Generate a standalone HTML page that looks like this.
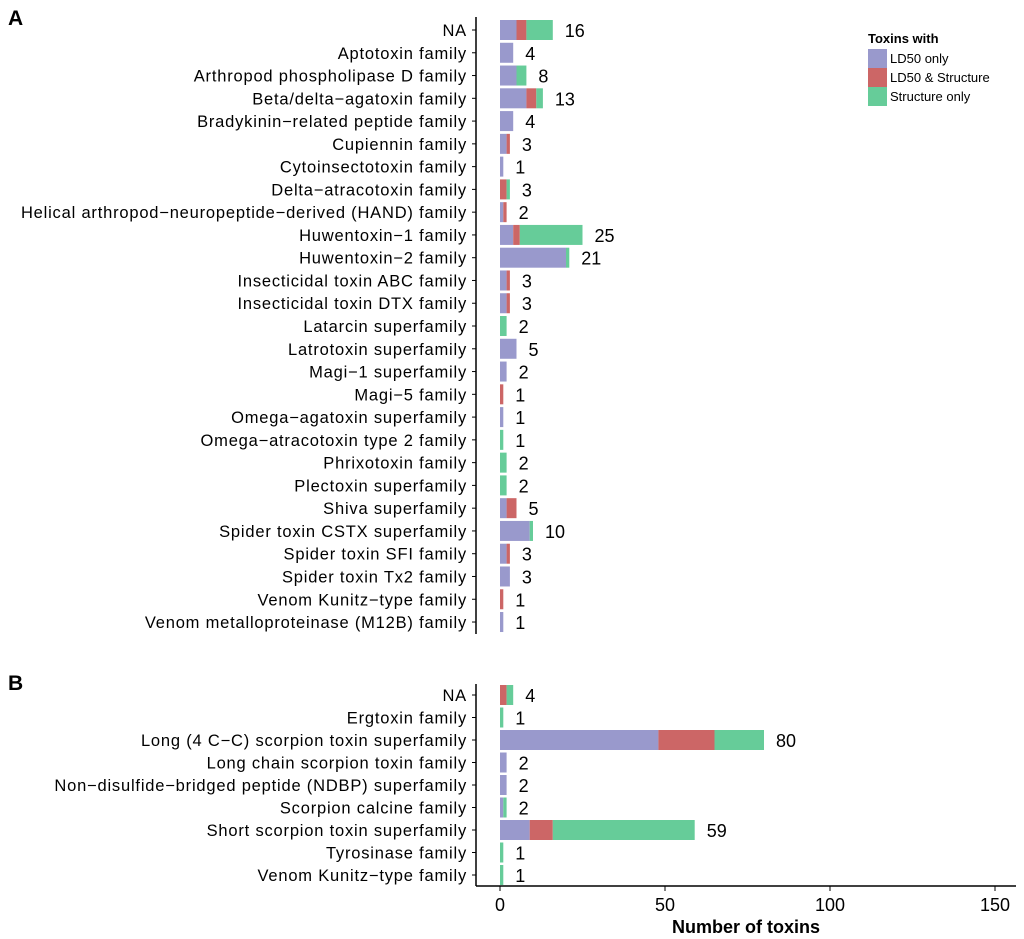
<!DOCTYPE html>
<html><head><meta charset="utf-8"><style>
body{margin:0;background:#fff}
svg{display:block;font-family:"Liberation Sans",sans-serif}
</style></head><body>
<svg id="chart" width="1024" height="939" viewBox="0 0 1024 939"></svg>
<script>
const catsA=["NA","Aptotoxin family","Arthropod phospholipase D family","Beta/delta\u2212agatoxin family","Bradykinin\u2212related peptide family","Cupiennin family","Cytoinsectotoxin family","Delta\u2212atracotoxin family","Helical arthropod\u2212neuropeptide\u2212derived (HAND) family","Huwentoxin\u22121 family","Huwentoxin\u22122 family","Insecticidal toxin ABC family","Insecticidal toxin DTX family","Latarcin superfamily","Latrotoxin superfamily","Magi\u22121 superfamily","Magi\u22125 family","Omega\u2212agatoxin superfamily","Omega\u2212atracotoxin type 2 family","Phrixotoxin family","Plectoxin superfamily","Shiva superfamily","Spider toxin CSTX superfamily","Spider toxin SFI family","Spider toxin Tx2 family","Venom Kunitz\u2212type family","Venom metalloproteinase (M12B) family"];
const ld50A=[5,4,5,8,4,2,1,0,1,4,20,2,2,0,5,2,0,1,0,0,0,2,9,2,3,0,1];
const bothA=[3,0,0,3,0,1,0,2,1,2,0,1,1,0,0,0,1,0,0,0,0,3,0,1,0,1,0];
const structA=[8,0,3,2,0,0,0,1,0,19,1,0,0,2,0,0,0,0,1,2,2,0,1,0,0,0,0];
const catsB=["NA","Ergtoxin family","Long (4 C\u2212C) scorpion toxin superfamily","Long chain scorpion toxin family","Non\u2212disulfide\u2212bridged peptide (NDBP) superfamily","Scorpion calcine family","Short scorpion toxin superfamily","Tyrosinase family","Venom Kunitz\u2212type family"];
const ld50B=[0,0,48,2,2,1,9,0,0];
const bothB=[2,0,17,0,0,0,7,0,0];
const structB=[2,1,15,0,0,1,43,1,1];
const xTicks=[0,50,100,150];

const svg=document.getElementById('chart');
const NS="http://www.w3.org/2000/svg";
function el(t,a,txt){const e=document.createElementNS(NS,t);for(const k in a)e.setAttribute(k,a[k]);if(txt!==undefined)e.textContent=txt;svg.appendChild(e);return e;}
const x=v=>500+v*3.3;
const colors=["#9999cc","#cc6666","#66cc99"];
const serNames=["ld50-only","ld50-and-structure","structure-only"];

function panel(cats,series,y0,step,top,bottom,tag){
  const a=el('line',{x1:476,y1:top,x2:476,y2:bottom,stroke:'#000','stroke-width':1.5});
  
  cats.forEach((c,i)=>{
    const cy=y0+i*step;
    const tk=el('line',{x1:472,y1:cy,x2:476,y2:cy,stroke:'#000'});
    
    const t=el('text',{x:467,y:cy+6,'text-anchor':'end','font-size':16.5,'letter-spacing':0.8},c);
    
    let acc=0;
    series.forEach((s,k)=>{
      const v=s[i];if(v>0){
        const r=el('rect',{x:x(acc),y:cy-10,width:x(acc+v)-x(acc),height:20,fill:colors[k]});
        
      }
      acc+=v;
    });
    const vl=el('text',{x:x(acc)+12,y:cy+7,'font-size':18},String(acc));
    
  });
}
panel(catsA,[ld50A,bothA,structA],30,22.77,17,634,'a');
panel(catsB,[ld50B,bothB,structB],695,22.5,684,886,'b');

const xa=el('line',{x1:476,y1:886,x2:1016,y2:886,stroke:'#000','stroke-width':1.5});

xTicks.forEach(v=>{
  const tk=el('line',{x1:x(v),y1:886,x2:x(v),y2:891,stroke:'#000'});
  
  const t=el('text',{x:x(v),y:911,'text-anchor':'middle','font-size':18},String(v));
  
});
const xt=el('text',{x:746,y:933,'text-anchor':'middle','font-size':18,'font-weight':'bold'},'Number of toxins');


const pa=el('text',{x:8,y:25,'font-size':21,'font-weight':'bold'},'A');

const pb=el('text',{x:8,y:690,'font-size':21,'font-weight':'bold'},'B');


const lt=el('text',{x:868,y:43,'font-size':13,'font-weight':'bold'},'Toxins with');

const legNames=["LD50 only","LD50 & Structure","Structure only"];
legNames.forEach((n,k)=>{
  const r=el('rect',{x:868,y:49+k*19,width:19,height:19,fill:colors[k]});
  
  const t=el('text',{x:890,y:63+k*19,'font-size':13},n);
  
});
</script>
</body></html>
